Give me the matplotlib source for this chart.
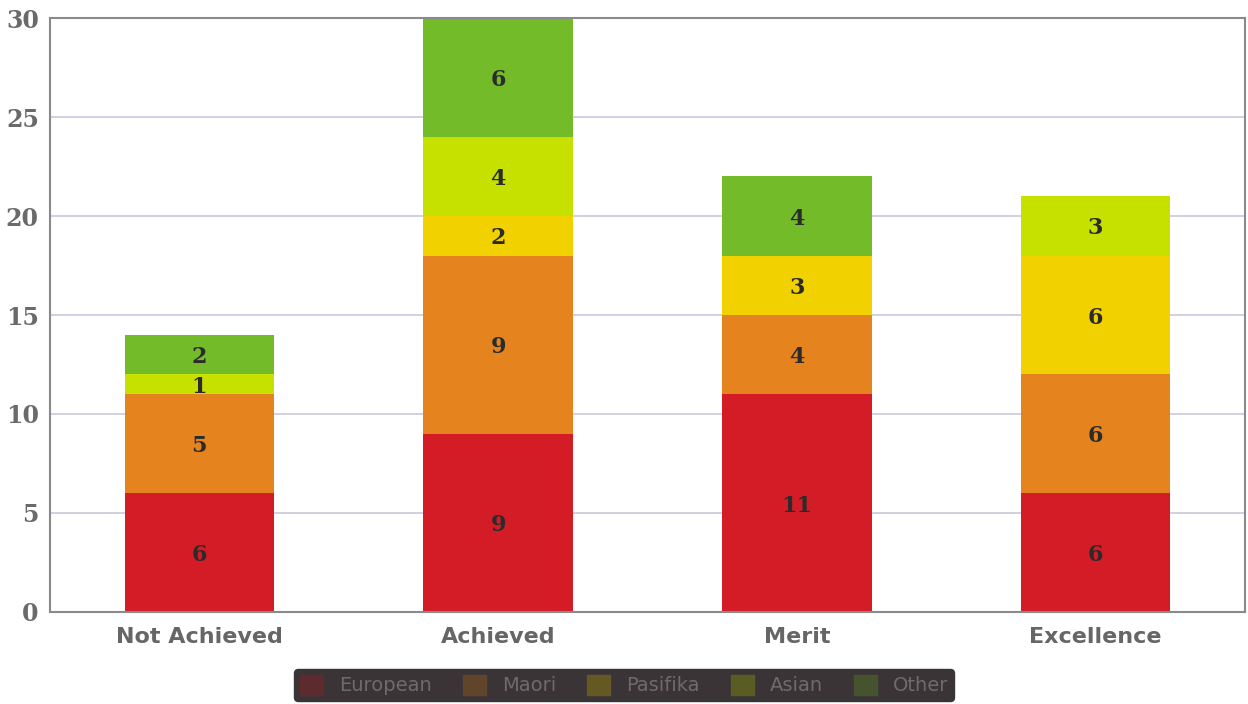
import numpy as np
import matplotlib.pyplot as plt
from matplotlib.colors import to_rgb

categories = ['Not Achieved', 'Achieved', 'Merit', 'Excellence']
groups = ['European', 'Maori', 'Pasifika', 'Asian', 'Other']
european = [6, 9, 11, 6]
maori = [5, 9, 4, 6]
pasifika = [0, 2, 3, 6]
asian = [1, 4, 0, 3]
other = [2, 6, 4, 0]
series = [european, maori, pasifika, asian, other]
colors = ['#d41c27', '#e5841f', '#f2d100', '#c6e000', '#74bb2a']

fig = plt.figure(figsize=(12.48, 7.04), dpi=100)
ax = fig.add_axes([0.040, 0.1307, 0.9576, 0.8437])

x = np.arange(len(categories))
bottom = np.zeros(len(categories))
for name, vals, col in zip(groups, series, colors):
    vals = np.array(vals, dtype=float)
    ax.bar(x, vals, width=0.5, bottom=bottom, color=col, label=name, zorder=2)
    for xi, b, v in zip(x, bottom, vals):
        if v > 0:
            ax.text(xi, b + v / 2, f'{int(v)}', ha='center', va='center_baseline',
                    fontsize=16, fontweight='bold', family='DejaVu Serif',
                    color='#2b2b2b', zorder=3)
    bottom += vals

ax.set_xlim(-0.5, 3.5)
ax.set_ylim(0, 30)
ax.set_yticks(range(0, 31, 5))
ax.set_xticks(x)
ax.set_xticklabels(categories, fontsize=16, fontweight='bold', color='#666666')
for lbl in ax.get_yticklabels():
    lbl.set_family('DejaVu Serif')
    lbl.set_fontweight('bold')
    lbl.set_fontsize(17)
    lbl.set_color('#6a6a6a')
ax.tick_params(length=0)
ax.tick_params(axis='x', pad=11)
ax.tick_params(axis='y', pad=8)
ax.yaxis.grid(True, color='#c9c8dc', linewidth=1.2, zorder=0)
for s in ax.spines.values():
    s.set_color('#8a8a8a')
    s.set_linewidth(1.5)

# legend (covered by a dark marker scribble in the reference)
dark = np.array(to_rgb('#35302f'))
handles = [plt.Rectangle((0, 0), 1, 1,
                         color=tuple(0.25 * np.array(to_rgb(c)) + 0.75 * dark))
           for c in colors]
leg = fig.legend(handles, groups, loc='center', bbox_to_anchor=(0.5, 0.027),
                 ncol=5, frameon=True, fontsize=14, handlelength=1.2,
                 handleheight=1.2, columnspacing=1.6, borderpad=0.3,
                 facecolor='#3b3437', edgecolor='#3b3437')
leg.get_frame().set_alpha(1)
for t in leg.get_texts():
    t.set_color('#6f6a6e')

fig.savefig('out.png', dpi=100)
